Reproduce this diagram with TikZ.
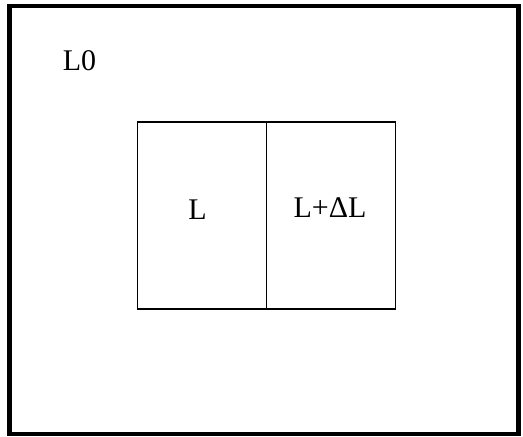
\documentclass[tikz,border=0pt]{standalone}
\usepackage{fontspec}
\setmainfont{Liberation Serif}
\usetikzlibrary{positioning}

\begin{document}
\begin{tikzpicture}[x=1pt, y=-1pt, line join=miter]
   % Styles
   \tikzset{
    frame/.style={draw=black, line width=4.5pt},
    cell/.style={draw=black, line width=1.4pt, minimum width=129pt, minimum height=187pt, inner sep=0pt, outer sep=0pt},
    lab/.style={font=\fontsize{30}{36}\selectfont, inner sep=0pt, anchor=base}
   }
  \useasboundingbox (0,0) rectangle (523,437);
  % Outer frame
  \draw[frame] (9.5,6) rectangle (518.5,434);
  % Nodes
  \node[cell] (lcell) at (202,215.5) {};
  \node[cell, right=0pt of lcell] (rcell) {};
  \node[lab] (lzero) at (79.5,70) {L0};
  \node[lab] (lval) at (197.5,219) {L};
  \node[lab] (ldelta) at (330,217) {L+ΔL};
\end{tikzpicture}
\end{document}
